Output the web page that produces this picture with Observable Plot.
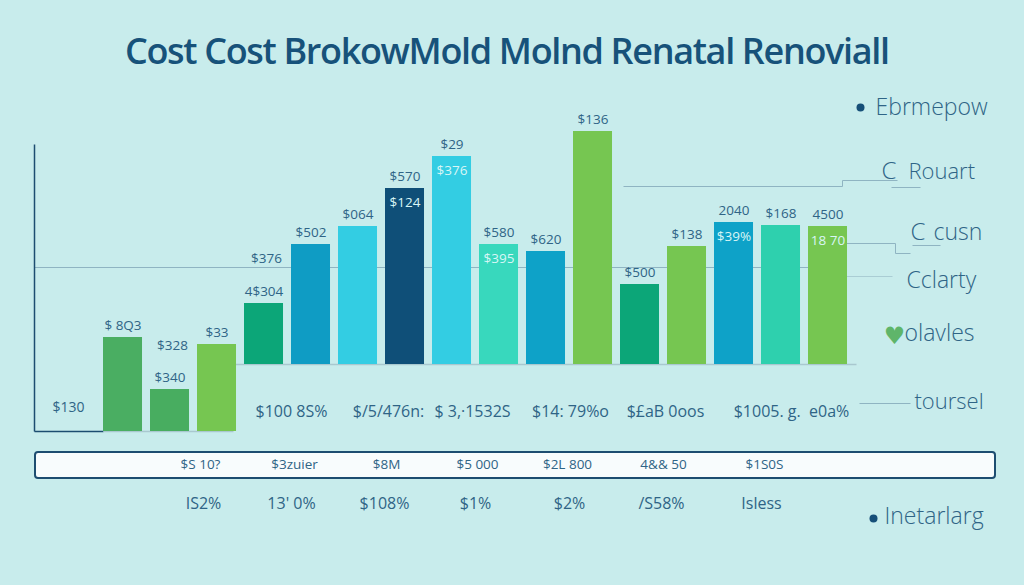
<!DOCTYPE html>
<html><head><meta charset="utf-8">
<script src="https://cdn.jsdelivr.net/npm/d3@7"></script>
<script src="https://cdn.jsdelivr.net/npm/@observablehq/plot@0.6"></script>
<style>
html,body{margin:0;padding:0;background:#c8ecec;width:1024px;height:585px;overflow:hidden}
#t{position:absolute;left:0;top:0;width:1024px;height:90px}
#t h1{position:absolute;left:125px;top:29px;margin:0;font:600 36px/44px "Open Sans",sans-serif;letter-spacing:-1.34px;color:#17527a;white-space:nowrap}
#c{position:absolute;left:0;top:0}
svg{background:transparent!important}
</style></head><body>
<div id="c"></div><div id="t"><h1>Cost Cost BrokowMold Molnd Renatal Renoviall</h1></div>
<script>
const slots=d3.range(16);
const bases=[0,0,0,67,67,67,67,67,67,67,67,67,67,67,67,67];
const tops=[94,42,87,128,187,205,243,275,187,180,300,147,185,209,206,205];
const colors=["#4aae62","#48ad60","#76c651","#0ca678","#0f9cc4","#33cde3","#0f4f78","#33cde3","#38d8bd","#0ea2c8","#76c651","#0ca678","#76c651","#0ea2c8","#2ed0ae","#76c651"];
const topLabels=["$ 8Q3","$340","$33","4$304","$502","$064","$570","$29","$580","$620","$136","$500","$138","2040","$168","4500"];
const innerLabels=[null,null,null,null,null,null,"$124","$376","$395",null,null,null,null,"$39%",null,"18 70"];
const row1=["$100 8S%","$/5/476n:","$ 3,·1532S","$14: 79%o","$£aB 0oos","$1005. g.  e0a%"];
const row2=["$S 10?","$3zuier","$8M","$5 000","$2L 800","4&& 50","$1S0S"];
const row3=["IS2%","13' 0%","$108%","$1%","$2%","/S58%","Isless"];
const legend=["Ebrmepow","Rouart","cusn","Cclarty","olavles","toursel","Inetarlarg"];

// layout helpers: pixel position to scale units (non-data furniture only)
const step=47, barW=.83;
const px=p=>(p-103)/step, py=p=>431-p;
const ink="#2f6486", dark="#1d4d70", line="#8fb4c2";
const bars=slots.map(i=>({i,base:bases[i],top:tops[i],color:colors[i],label:topLabels[i],inner:innerLabels[i]}));
const tx=d=>d.i+barW/2;
const T=(arr,xs,p,o={})=>Plot.text(arr.map((s,k)=>({s,x:px(xs[k]),y:py(p)})),{x:"x",y:"y",text:"s",fontSize:13.5,fill:ink,fontFamily:"Open Sans",...o});
const seg=(a,b,c,d,o={})=>Plot.link([0],{x1:()=>px(a),y1:()=>py(b),x2:()=>px(c),y2:()=>py(d),stroke:line,strokeWidth:1,...o});
const legendItems=[[875,107,23],[908,171,22],[933,232,23],[906,280,23],[904,333,23],[914,401,22],[884,516,23]];

const chart=Plot.plot({
  width:1024,height:585,margin:0,
  style:{background:"transparent"},
  x:{type:"linear",domain:[px(0),px(1024)],range:[0,1024],axis:null},
  y:{type:"linear",domain:[py(585),py(0)],range:[585,0],axis:null},
  marks:[
    seg(34,267,846,267),
    seg(233,364,856,364,{stroke:"#a9c8cf",strokeWidth:1.5}),
    seg(34,144,34,431,{stroke:dark,strokeWidth:1.5}),
    seg(34,431,103,431,{stroke:dark,strokeWidth:1.5}),
    seg(103,431,233,431,{stroke:"#a9c8cf",strokeWidth:1.5}),
    seg(623,186,842,186),seg(842,186,842,180),seg(842,180,897,180),
    seg(891,187,920,187),
    seg(846,243,895,243),seg(895,243,895,253),seg(895,253,910,253),
    seg(912,245,940,245),
    seg(846,276,892,276,{stroke:"#aacdd4"}),
    seg(859,403,910,403),
    Plot.rectY(bars,{x1:"i",x2:d=>d.i+barW,y1:"base",y2:"top",fill:"color"}),
    Plot.text(bars,{x:tx,y:"top",dy:-12,text:"label",fontSize:13.5,fill:ink,fontFamily:"Open Sans"}),
    Plot.text(bars.filter(d=>d.inner),{x:tx,y:"top",dy:14,text:"inner",fontSize:13.5,fill:"#d9f6f6",fontFamily:"Open Sans"}),
    T(["$130"],[68],407,{fontSize:14}),T(["$328"],[172],345),T(["$376"],[266],258),
    T(row1,[291,388,472,570,665,791],411,{fontSize:16}),
    Plot.rect([0],{x1:()=>px(35),x2:()=>px(995),y1:()=>py(452),y2:()=>py(478),fill:"#f8fcfd",stroke:dark,strokeWidth:2,rx:3}),
    T(row2,[200,294,386,477,567,663,764],464,{fontSize:13.5}),
    T(row3,[203,291,384,475,569,661,761],503,{fontSize:16}),
    Plot.dot([[860,107],[873,518]],{x:d=>px(d[0]),y:d=>py(d[1]),r:4,fill:"#164f78"}),
    Plot.text(["♥"],{x:()=>px(894),y:()=>py(336),text:d=>d,fontSize:24,fill:"#5fb56a",fontFamily:"DejaVu Sans"}),
    Plot.text(legend.map((s,k)=>({s,x:px(legendItems[k][0]),y:py(legendItems[k][1]),f:legendItems[k][2]})),{x:"x",y:"y",text:"s",fontSize:"f",textAnchor:"start",fontWeight:300,fill:ink,fontFamily:"Open Sans"}),
    Plot.text(["C","C"].map((s,k)=>({s,x:px([881,910][k]),y:py([171,232][k])})),{x:"x",y:"y",text:"s",fontSize:24,textAnchor:"start",fontWeight:300,fill:ink,fontFamily:"Open Sans"})
  ]
});
document.getElementById("c").append(chart);
</script></body></html>
